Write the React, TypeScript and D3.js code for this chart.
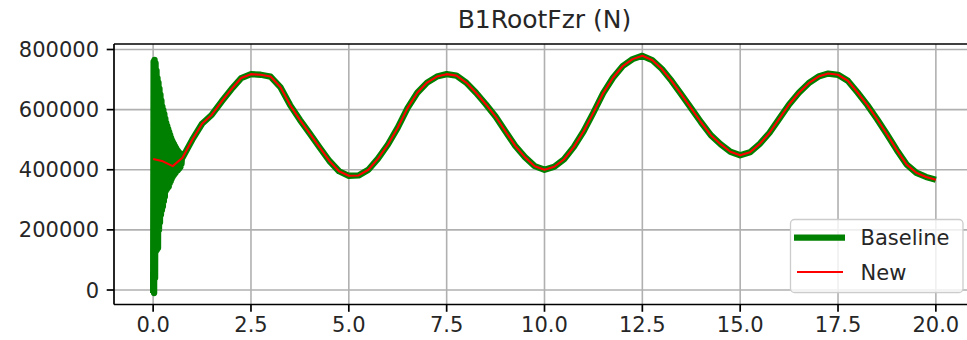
import React from "react";
import * as d3 from "d3";

const title = "B1RootFzr (N)";
const xTicks = [0, 2.5, 5, 7.5, 10, 12.5, 15, 17.5, 20];
const yTicks = [0, 200000, 400000, 600000, 800000];

// "New" series (time s, value in thousands N)
const newTime = [
  0, 0.25, 0.5, 0.75, 1, 1.25, 1.5, 1.75, 2, 2.25, 2.5, 2.75, 3, 3.25, 3.5, 3.75,
  4, 4.25, 4.5, 4.75, 5, 5.25, 5.5, 5.75, 6, 6.25, 6.5, 6.75, 7, 7.25, 7.5, 7.75,
  8, 8.25, 8.5, 8.75, 9, 9.25, 9.5, 9.75, 10, 10.25, 10.5, 10.75, 11, 11.25, 11.5, 11.75,
  12, 12.25, 12.5, 12.75, 13, 13.25, 13.5, 13.75, 14, 14.25, 14.5, 14.75, 15, 15.25, 15.5, 15.75,
  16, 16.25, 16.5, 16.75, 17, 17.25, 17.5, 17.75, 18, 18.25, 18.5, 18.75, 19, 19.25, 19.5, 19.75, 20,
];
const newValueK = [
  436, 428, 412, 440, 500, 553, 583, 627, 668, 705, 718, 716, 710, 675, 615, 566,
  521, 475, 430, 395, 380, 381, 400, 438, 484, 540, 605, 656, 690, 710, 718, 713,
  690, 656, 618, 577, 528, 480, 442, 412, 400, 410, 435, 476, 528, 590, 655, 706,
  745, 768, 779, 765, 735, 695, 650, 604, 558, 515, 485, 460, 448, 458, 486, 523,
  570, 617, 656, 688, 710, 720, 716, 696, 657, 615, 568, 518, 466, 418, 390, 376, 367,
];

// "Baseline" start-up transient (time s, value in thousands N); afterwards it follows New
const baseStartTime = [
  0, 0.012, 0.025, 0.037, 0.05, 0.062, 0.075, 0.087, 0.1, 0.112, 0.125, 0.137, 0.15, 0.162,
  0.175, 0.187, 0.2, 0.212, 0.225, 0.237, 0.25, 0.262, 0.275, 0.287, 0.3, 0.312, 0.325, 0.337,
  0.35, 0.362, 0.375, 0.387, 0.4, 0.412, 0.425, 0.437, 0.45, 0.462, 0.475, 0.487, 0.5, 0.512,
  0.525, 0.537, 0.55, 0.562, 0.575, 0.587, 0.6, 0.612, 0.625, 0.637, 0.65, 0.662, 0.675, 0.687,
  0.7, 0.712, 0.725, 0.737,
];
const baseStartValueK = [
  -10, 760, -10, 765, 40, 755, 130, 730, 135, 705, 140, 690, 200, 670,
  225, 650, 250, 630, 265, 610, 278, 598, 295, 585, 310, 570, 330, 555,
  335, 545, 340, 535, 344, 525, 355, 515, 362, 505, 370, 497, 377, 490,
  382, 484, 386, 478, 390, 472, 395, 466, 398, 462, 402, 458, 405, 454,
  410, 450, 420, 445,
];

const W = 967;
const H = 340;
const AX = { left: 114, top: 44, right: 975, bottom: 304.5 };
const FONT = "'DejaVu Sans', sans-serif";
const FS = 21;

export default function App() {
  const x = d3.scaleLinear().domain([-1, 21]).range([AX.left, AX.right]);
  const y = d3.scaleLinear().domain([-48200, 818300]).range([AX.bottom, AX.top]);

  const newPts: [number, number][] = newTime.map((t, i) => [t, newValueK[i] * 1000]);
  const basePts: [number, number][] = [
    ...baseStartTime.map((t, i) => [t, baseStartValueK[i] * 1000] as [number, number]),
    ...newPts.filter((p) => p[0] >= 0.75),
  ];
  const line = d3
    .line<[number, number]>()
    .x((d) => x(d[0]))
    .y((d) => y(d[1]));

  const gridColor = "#b0b0b0";
  const lg = { right: AX.right - 12, bottom: AX.bottom - 12 };
  const lgBox = { x: 790.5, y: 219.5, w: lg.right - 790.5, h: lg.bottom - 219.5 };

  return (
    <svg
      width={W}
      height={H}
      style={{ position: "absolute", left: 0, top: 0, background: "#fff" }}
      fontFamily={FONT}
    >
      <defs>
        <clipPath id="axclip">
          <rect x={AX.left} y={AX.top} width={AX.right - AX.left} height={AX.bottom - AX.top} />
        </clipPath>
      </defs>
      <rect x={0} y={0} width={W} height={H} fill="#fff" />
      {/* grid */}
      {xTicks.map((t) => (
        <line key={"gx" + t} x1={x(t)} x2={x(t)} y1={AX.top} y2={AX.bottom} stroke={gridColor} strokeWidth={1.6} />
      ))}
      {yTicks.map((t) => (
        <line key={"gy" + t} x1={AX.left} x2={AX.right} y1={y(t)} y2={y(t)} stroke={gridColor} strokeWidth={1.6} />
      ))}
      {/* series */}
      <g clipPath="url(#axclip)">
        <path d={line(basePts) || ""} fill="none" stroke="#008000" strokeWidth={6.3} strokeLinejoin="round" strokeLinecap="butt" />
        <path d={line(newPts) || ""} fill="none" stroke="#ff0000" strokeWidth={2.1} strokeLinejoin="round" />
      </g>
      {/* spines */}
      <line x1={AX.left} x2={AX.left} y1={AX.top} y2={AX.bottom} stroke="#000" strokeWidth={1.7} />
      <line x1={AX.left} x2={AX.right} y1={AX.top} y2={AX.top} stroke="#000" strokeWidth={1.7} />
      <line x1={AX.left} x2={AX.right} y1={AX.bottom} y2={AX.bottom} stroke="#000" strokeWidth={1.7} />
      <line x1={AX.right} x2={AX.right} y1={AX.top} y2={AX.bottom} stroke="#000" strokeWidth={1.7} />
      {/* x ticks */}
      {xTicks.map((t) => (
        <g key={"tx" + t}>
          <line x1={x(t)} x2={x(t)} y1={AX.bottom} y2={AX.bottom + 7.3} stroke="#000" strokeWidth={1.7} />
          <text x={x(t)} y={332} textAnchor="middle" fontSize={FS} fill="#262626">
            {t.toFixed(1)}
          </text>
        </g>
      ))}
      {/* y ticks */}
      {yTicks.map((t) => (
        <g key={"ty" + t}>
          <line x1={AX.left - 7.3} x2={AX.left} y1={y(t)} y2={y(t)} stroke="#000" strokeWidth={1.7} />
          <text x={99} y={y(t) + 7.6} textAnchor="end" fontSize={FS} fill="#262626">
            {String(t)}
          </text>
        </g>
      ))}
      {/* title */}
      <text x={(AX.left + AX.right) / 2} y={28.3} textAnchor="middle" fontSize={25} fill="#262626">
        {title}
      </text>
      {/* legend */}
      <rect x={lgBox.x} y={lgBox.y} width={lgBox.w} height={lgBox.h} rx={4} ry={4} fill="#fff" fillOpacity={0.8} stroke="#cccccc" strokeWidth={1.3} />
      <line x1={794} x2={845} y1={237.7} y2={237.7} stroke="#008000" strokeWidth={6.3} />
      <text x={860.5} y={244.5} fontSize={FS} fill="#262626">Baseline</text>
      <line x1={797} x2={843} y1={272} y2={272} stroke="#ff0000" strokeWidth={2.1} />
      <text x={860.5} y={280} fontSize={FS} fill="#262626">New</text>
    </svg>
  );
}
